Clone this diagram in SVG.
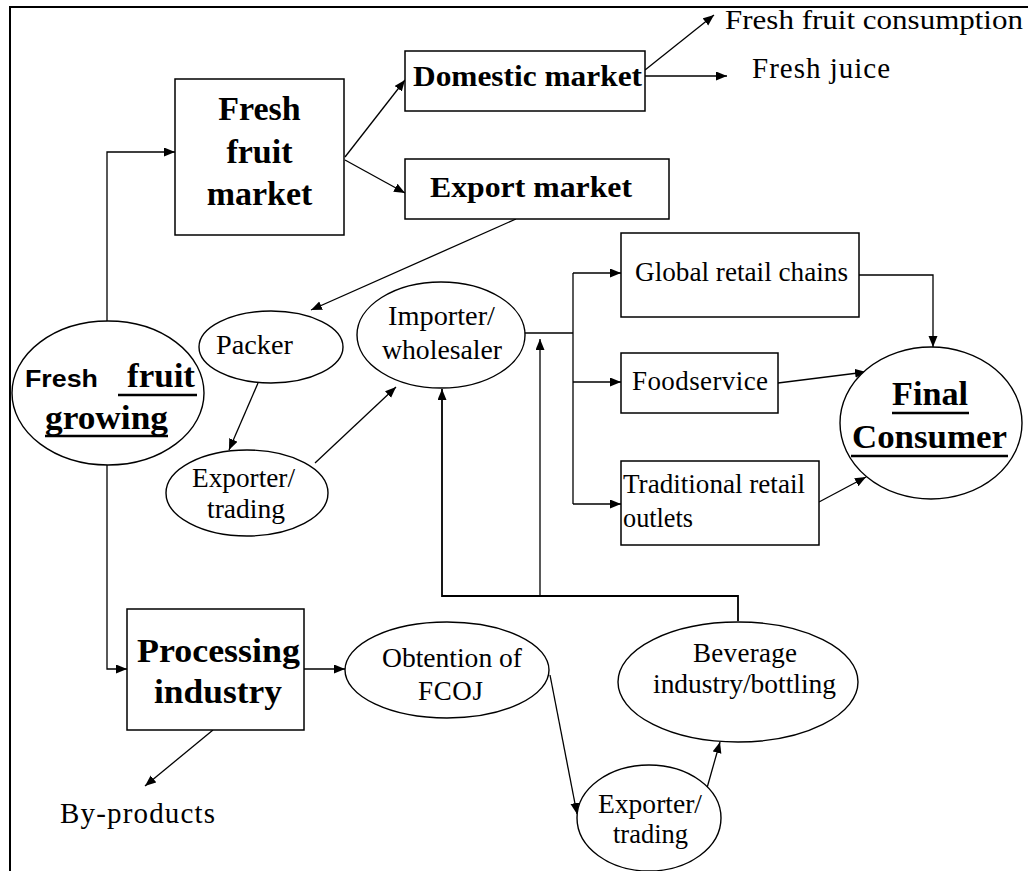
<svg xmlns="http://www.w3.org/2000/svg" width="1028" height="871" viewBox="0 0 1028 871">
<style>
.box{fill:#fff;stroke:#000;stroke-width:1.5}
.ell{fill:#fff;stroke:#000;stroke-width:1.4}
.t{font-family:"Liberation Serif","Times New Roman",serif;fill:#000}
.r{font-size:27px}
.b{font-size:34px;font-weight:bold}
.bm{font-size:30px;font-weight:bold}
.s{font-family:"Liberation Sans",Arial,sans-serif;font-weight:bold;font-size:23px;fill:#000}
.c{fill:none;stroke:#000;stroke-width:1.3}
.ul{stroke:#000;stroke-width:2.6}
</style>
<defs>
<marker id="ah" markerUnits="userSpaceOnUse" markerWidth="12" markerHeight="10" refX="11" refY="4.5" orient="auto">
<path d="M0,0 L11,4.5 L0,9 z" fill="#000"/>
</marker>
</defs>
<rect x="10" y="7" width="1030" height="880" fill="#fff" stroke="#000" stroke-width="2"/>

<g id="connectors">
<polyline class="c" points="107,322 107,152 175,152" marker-end="url(#ah)"/>
<polyline class="c" points="107,465 107,669 127,669" marker-end="url(#ah)"/>
<line class="c" x1="345" y1="157" x2="405" y2="80" marker-end="url(#ah)"/>
<line class="c" x1="345" y1="160" x2="405" y2="193" marker-end="url(#ah)"/>
<line class="c" x1="645" y1="70" x2="714" y2="15" marker-end="url(#ah)"/>
<line class="c" x1="645" y1="76" x2="727" y2="76" marker-end="url(#ah)"/>
<line class="c" x1="516" y1="219" x2="311" y2="310" marker-end="url(#ah)"/>
<line class="c" x1="258" y1="383" x2="229" y2="450" marker-end="url(#ah)"/>
<line class="c" x1="315" y1="463" x2="396" y2="387" marker-end="url(#ah)"/>
<line class="c" x1="525" y1="333" x2="573" y2="333"/>
<line class="c" x1="573" y1="273" x2="573" y2="504"/>
<line class="c" x1="573" y1="273" x2="621" y2="273" marker-end="url(#ah)"/>
<line class="c" x1="573" y1="382" x2="621" y2="382" marker-end="url(#ah)"/>
<line class="c" x1="573" y1="504" x2="621" y2="504" marker-end="url(#ah)"/>
<polyline class="c" points="859,275 933,275 933,347" marker-end="url(#ah)"/>
<line class="c" x1="778" y1="383" x2="866" y2="372" marker-end="url(#ah)"/>
<line class="c" x1="819" y1="502" x2="866" y2="477" marker-end="url(#ah)"/>
<polyline class="c" points="738,621 738,596 442,596 442,389" marker-end="url(#ah)" style="stroke-width:1.8"/>
<line class="c" x1="540" y1="596" x2="540" y2="339" marker-end="url(#ah)"/>
<line class="c" x1="304" y1="669" x2="345" y2="669" marker-end="url(#ah)"/>
<line class="c" x1="550" y1="675" x2="577" y2="814" marker-end="url(#ah)"/>
<line class="c" x1="707" y1="788" x2="720" y2="742" marker-end="url(#ah)"/>
<line class="c" x1="213" y1="730" x2="145" y2="786" marker-end="url(#ah)"/>
</g>

<g id="fresh-fruit-market">
<rect class="box" x="175" y="79" width="169" height="156"/>
<text class="t b" x="259.5" y="120" text-anchor="middle" font-size="35">Fresh</text>
<text class="t b" x="259.5" y="163" text-anchor="middle" font-size="35">fruit</text>
<text class="t b" x="259.5" y="205" text-anchor="middle" font-size="35">market</text>
</g>

<g id="domestic-market">
<rect class="box" x="405" y="51" width="240" height="60"/>
<text class="t bm" x="413" y="86" textLength="229" lengthAdjust="spacingAndGlyphs">Domestic market</text>
</g>

<g id="export-market">
<rect class="box" x="405" y="159" width="264" height="60"/>
<text class="t bm" x="430" y="197" textLength="202" lengthAdjust="spacingAndGlyphs">Export market</text>
</g>

<g id="fresh-fruit-consumption">
<text class="t" x="725" y="29" font-size="28" textLength="298" lengthAdjust="spacingAndGlyphs">Fresh fruit consumption</text>
</g>

<g id="fresh-juice">
<text class="t" x="752" y="78" font-size="29" textLength="138" lengthAdjust="spacing">Fresh juice</text>
</g>

<g id="fresh-fruit-growing">
<ellipse class="ell" cx="108" cy="393" rx="96" ry="72"/>
<text class="s" x="25" y="387" textLength="73" lengthAdjust="spacingAndGlyphs">Fresh</text>
<text class="t b" x="127" y="387" font-size="35" textLength="68" lengthAdjust="spacingAndGlyphs">fruit</text>
<line class="ul" x1="118" y1="395" x2="197" y2="395"/>
<text class="t b" x="45" y="429" font-size="35" textLength="123" lengthAdjust="spacingAndGlyphs">growing</text>
<line class="ul" x1="45" y1="436" x2="168" y2="436"/>
</g>

<g id="packer">
<ellipse class="ell" cx="271" cy="347" rx="72" ry="36"/>
<text class="t r" x="216" y="354" textLength="77" lengthAdjust="spacingAndGlyphs">Packer</text>
</g>

<g id="importer-wholesaler">
<ellipse class="ell" cx="441" cy="335" rx="84" ry="53"/>
<text class="t r" x="388" y="325" textLength="107" lengthAdjust="spacingAndGlyphs">Importer/</text>
<text class="t r" x="382" y="359" textLength="120" lengthAdjust="spacingAndGlyphs">wholesaler</text>
</g>

<g id="exporter-trading-1">
<ellipse class="ell" cx="247" cy="493" rx="81" ry="43"/>
<text class="t r" x="192" y="487" textLength="103" lengthAdjust="spacingAndGlyphs">Exporter/</text>
<text class="t r" x="207" y="518" textLength="78" lengthAdjust="spacingAndGlyphs">trading</text>
</g>

<g id="global-retail-chains">
<rect class="box" x="621" y="233" width="238" height="84"/>
<text class="t r" x="635" y="281" textLength="213" lengthAdjust="spacingAndGlyphs">Global retail chains</text>
</g>

<g id="foodservice">
<rect class="box" x="621" y="353" width="157" height="60"/>
<text class="t r" x="632" y="390" textLength="136" lengthAdjust="spacing">Foodservice</text>
</g>

<g id="traditional-retail">
<rect class="box" x="621" y="461" width="198" height="84"/>
<text class="t r" x="623" y="493" textLength="182" lengthAdjust="spacingAndGlyphs">Traditional retail</text>
<text class="t r" x="623" y="527" textLength="70" lengthAdjust="spacingAndGlyphs">outlets</text>
</g>

<g id="final-consumer">
<ellipse class="ell" cx="931" cy="423" rx="91" ry="76"/>
<text class="t b" x="892" y="405" textLength="76" lengthAdjust="spacingAndGlyphs">Final</text>
<line class="ul" x1="892" y1="413" x2="969" y2="413"/>
<text class="t b" x="852" y="448" textLength="155" lengthAdjust="spacingAndGlyphs">Consumer</text>
<line class="ul" x1="851" y1="456" x2="1008" y2="456"/>
</g>

<g id="processing-industry">
<rect class="box" x="127" y="609" width="177" height="121"/>
<text class="t b" x="137" y="662" font-size="35" textLength="163" lengthAdjust="spacingAndGlyphs">Processing</text>
<text class="t b" x="154" y="703" font-size="35" textLength="128" lengthAdjust="spacingAndGlyphs">industry</text>
</g>

<g id="obtention-fcoj">
<ellipse class="ell" cx="447" cy="670" rx="102" ry="48"/>
<text class="t r" x="382" y="667" textLength="140" lengthAdjust="spacingAndGlyphs">Obtention of</text>
<text class="t r" x="418" y="700" textLength="65" lengthAdjust="spacing">FCOJ</text>
</g>

<g id="by-products">
<text class="t" x="60" y="823" font-size="29" textLength="155" lengthAdjust="spacing">By-products</text>
</g>

<g id="beverage-industry">
<ellipse class="ell" cx="738" cy="682" rx="120" ry="60"/>
<text class="t r" x="693" y="662" textLength="104" lengthAdjust="spacing">Beverage</text>
<text class="t r" x="653" y="693" textLength="183" lengthAdjust="spacingAndGlyphs">industry/bottling</text>
</g>

<g id="exporter-trading-2">
<ellipse class="ell" cx="649" cy="818" rx="72" ry="53"/>
<text class="t r" x="598" y="813" textLength="104" lengthAdjust="spacingAndGlyphs">Exporter/</text>
<text class="t r" x="613" y="843" textLength="75" lengthAdjust="spacingAndGlyphs">trading</text>
</g>
</svg>
